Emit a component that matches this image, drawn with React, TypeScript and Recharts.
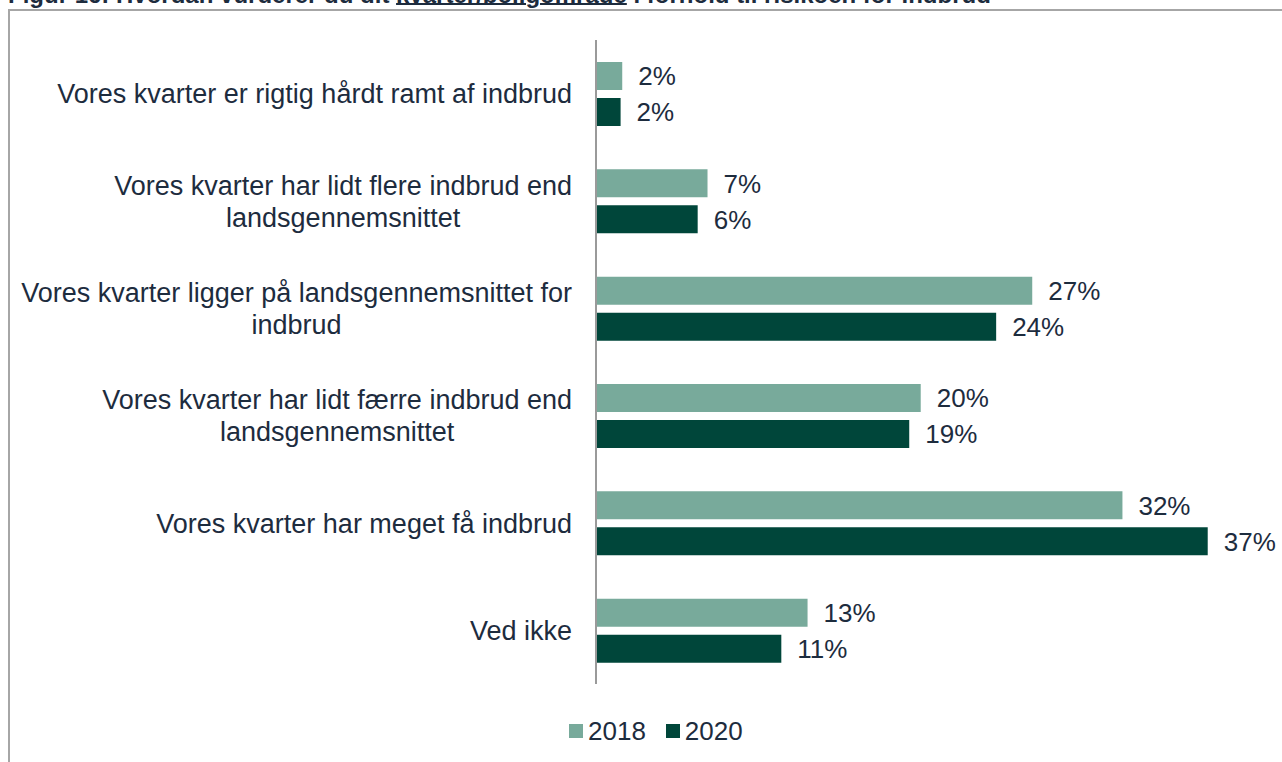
import { Bar, BarChart, LabelList, XAxis, YAxis } from "recharts";

const categories = [
  "Vores kvarter er rigtig hårdt ramt af indbrud",
  "Vores kvarter har lidt flere indbrud end landsgennemsnittet",
  "Vores kvarter ligger på landsgennemsnittet for indbrud",
  "Vores kvarter har lidt færre indbrud end landsgennemsnittet",
  "Vores kvarter har meget få indbrud",
  "Ved ikke",
];
const values2018 = [1.6, 6.8, 26.6, 19.8, 32.1, 12.9];
const values2020 = [1.5, 6.2, 24.4, 19.1, 37.3, 11.3];
const seriesNames = ["2018", "2020"];

const seriesColors = ["#78aa9b", "#00463a"];
const TEXT = "#1d2c3e";
const FONT = "'Liberation Sans', Arial, sans-serif";
const LABEL_RIGHT = 572;
const TICK_SIZE = 27;

const data = categories.map((category, i) => ({
  category,
  y2018: values2018[i],
  y2020: values2020[i],
}));

let ctx: CanvasRenderingContext2D | null = null;
function measure(text: string) {
  if (!ctx) ctx = document.createElement("canvas").getContext("2d");
  ctx!.font = `${TICK_SIZE}px ${FONT}`;
  return ctx!.measureText(text).width;
}

function wrap(text: string, max: number) {
  const lines: string[] = [];
  let line = "";
  for (const word of text.split(" ")) {
    const next = line ? `${line} ${word}` : word;
    if (line && measure(next) > max) {
      lines.push(line);
      line = word;
    } else {
      line = next;
    }
  }
  lines.push(line);
  return lines;
}

function CategoryTick({ y, payload }: any) {
  const lines = wrap(payload.value, 570);
  const block = Math.max(...lines.map(measure));
  const cx = LABEL_RIGHT - block / 2;
  const lh = 32;
  const first = -((lines.length - 1) * lh) / 2;
  return (
    <text textAnchor="middle" fill={TEXT} fontSize={TICK_SIZE} fontFamily={FONT}>
      {lines.map((l, i) => (
        <tspan key={i} x={cx} y={y + first + i * lh} dy="0.355em">
          {l}
        </tspan>
      ))}
    </text>
  );
}

const pct = (v: any) => `${Math.round(Number(v))}%`;

export default function App() {
  return (
    <div style={{ position: "absolute", left: 0, top: 0, width: 1282, height: 762, overflow: "hidden", background: "#fff" }}>
      <div style={{ position: "absolute", left: 8, top: 9, width: 1400, height: 900, border: "2px solid #a6a6a6" }} />
      <div
        style={{
          position: "absolute",
          left: 8,
          top: -17,
          fontFamily: FONT,
          fontWeight: "bold",
          fontSize: 24,
          lineHeight: "24px",
          color: TEXT,
          whiteSpace: "nowrap",
        }}
      >
        Figur 16: Hvordan vurderer du dit{" "}
        <u style={{ textDecorationThickness: "2px", textUnderlineOffset: "0px" }}>kvarter/boligområde</u> i forhold til
        risikoen for indbrud
      </div>
      <div style={{ position: "absolute", left: 0, top: 0 }}>
        <BarChart
          width={1282}
          height={762}
          data={data}
          layout="vertical"
          margin={{ top: 40, right: 30, bottom: 78, left: 0 }}
          barSize={28}
          barGap={8}
        >
          <XAxis type="number" domain={[0, 40]} hide />
          <YAxis
            type="category"
            dataKey="category"
            width={596}
            interval={0}
            tickLine={false}
            axisLine={{ stroke: "#9a9a9a", strokeWidth: 2 }}
            tick={<CategoryTick />}
          />
          <Bar dataKey="y2018" name={seriesNames[0]} fill={seriesColors[0]} isAnimationActive={false}>
            <LabelList dataKey="y2018" position="right" offset={16} formatter={pct} fill={TEXT} fontSize={26} fontFamily={FONT} />
          </Bar>
          <Bar dataKey="y2020" name={seriesNames[1]} fill={seriesColors[1]} isAnimationActive={false}>
            <LabelList dataKey="y2020" position="right" offset={16} formatter={pct} fill={TEXT} fontSize={26} fontFamily={FONT} />
          </Bar>
        </BarChart>
      </div>
      <div
        style={{
          position: "absolute",
          left: 569,
          top: 717,
          display: "flex",
          alignItems: "center",
          fontFamily: FONT,
          fontSize: 26,
          lineHeight: "28px",
          color: TEXT,
        }}
      >
        {seriesNames.map((name, i) => (
          <div key={name} style={{ display: "flex", alignItems: "center", marginRight: 20 }}>
            <span style={{ width: 14, height: 14, background: seriesColors[i], marginRight: 5 }} />
            <span>{name}</span>
          </div>
        ))}
      </div>
    </div>
  );
}
